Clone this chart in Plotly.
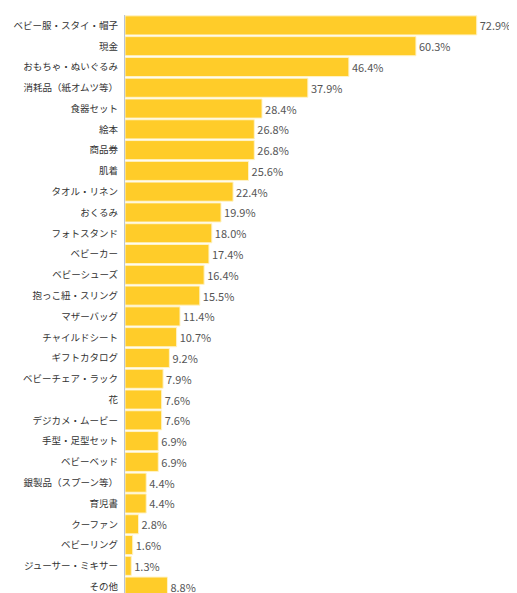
import plotly.graph_objects as go

categories = ["ベビー服・スタイ・帽子","現金","おもちゃ・ぬいぐるみ","消耗品（紙オムツ等）","食器セット","絵本","商品券","肌着","タオル・リネン","おくるみ","フォトスタンド","ベビーカー","ベビーシューズ","抱っこ紐・スリング","マザーバッグ","チャイルドシート","ギフトカタログ","ベビーチェア・ラック","花","デジカメ・ムービー","手型・足型セット","ベビーベッド","銀製品（スプーン等）","育児書","クーファン","ベビーリング","ジューサー・ミキサー","その他"]
values = [72.9,60.3,46.4,37.9,28.4,26.8,26.8,25.6,22.4,19.9,18.0,17.4,16.4,15.5,11.4,10.7,9.2,7.9,7.6,7.6,6.9,6.9,4.4,4.4,2.8,1.6,1.3,8.8]
labels = [f"{v:.1f}%" for v in values]

fig = go.Figure(go.Bar(
    x=values, y=categories, orientation="h",
    marker=dict(color="#FFCC29", line=dict(color="#FFF3C8", width=1)),
    text=labels, textposition="outside", cliponaxis=False,
    textfont=dict(size=11, color="#555555"),
))
fig.update_layout(
    width=517, height=593, margin=dict(l=117, r=14, t=7, b=4),
    paper_bgcolor="white", plot_bgcolor="white",
    font=dict(family="Noto Sans CJK JP", size=9.5, color="#333333"),
    bargap=0.08, showlegend=False,
    xaxis=dict(range=[0, 80], visible=False, automargin=False),
    yaxis=dict(autorange="reversed", showline=True, linecolor="#B8C4D8", linewidth=1,
               ticks="", showgrid=False, ticklabelstandoff=4, automargin=False),
)
fig.write_html("out.html")
